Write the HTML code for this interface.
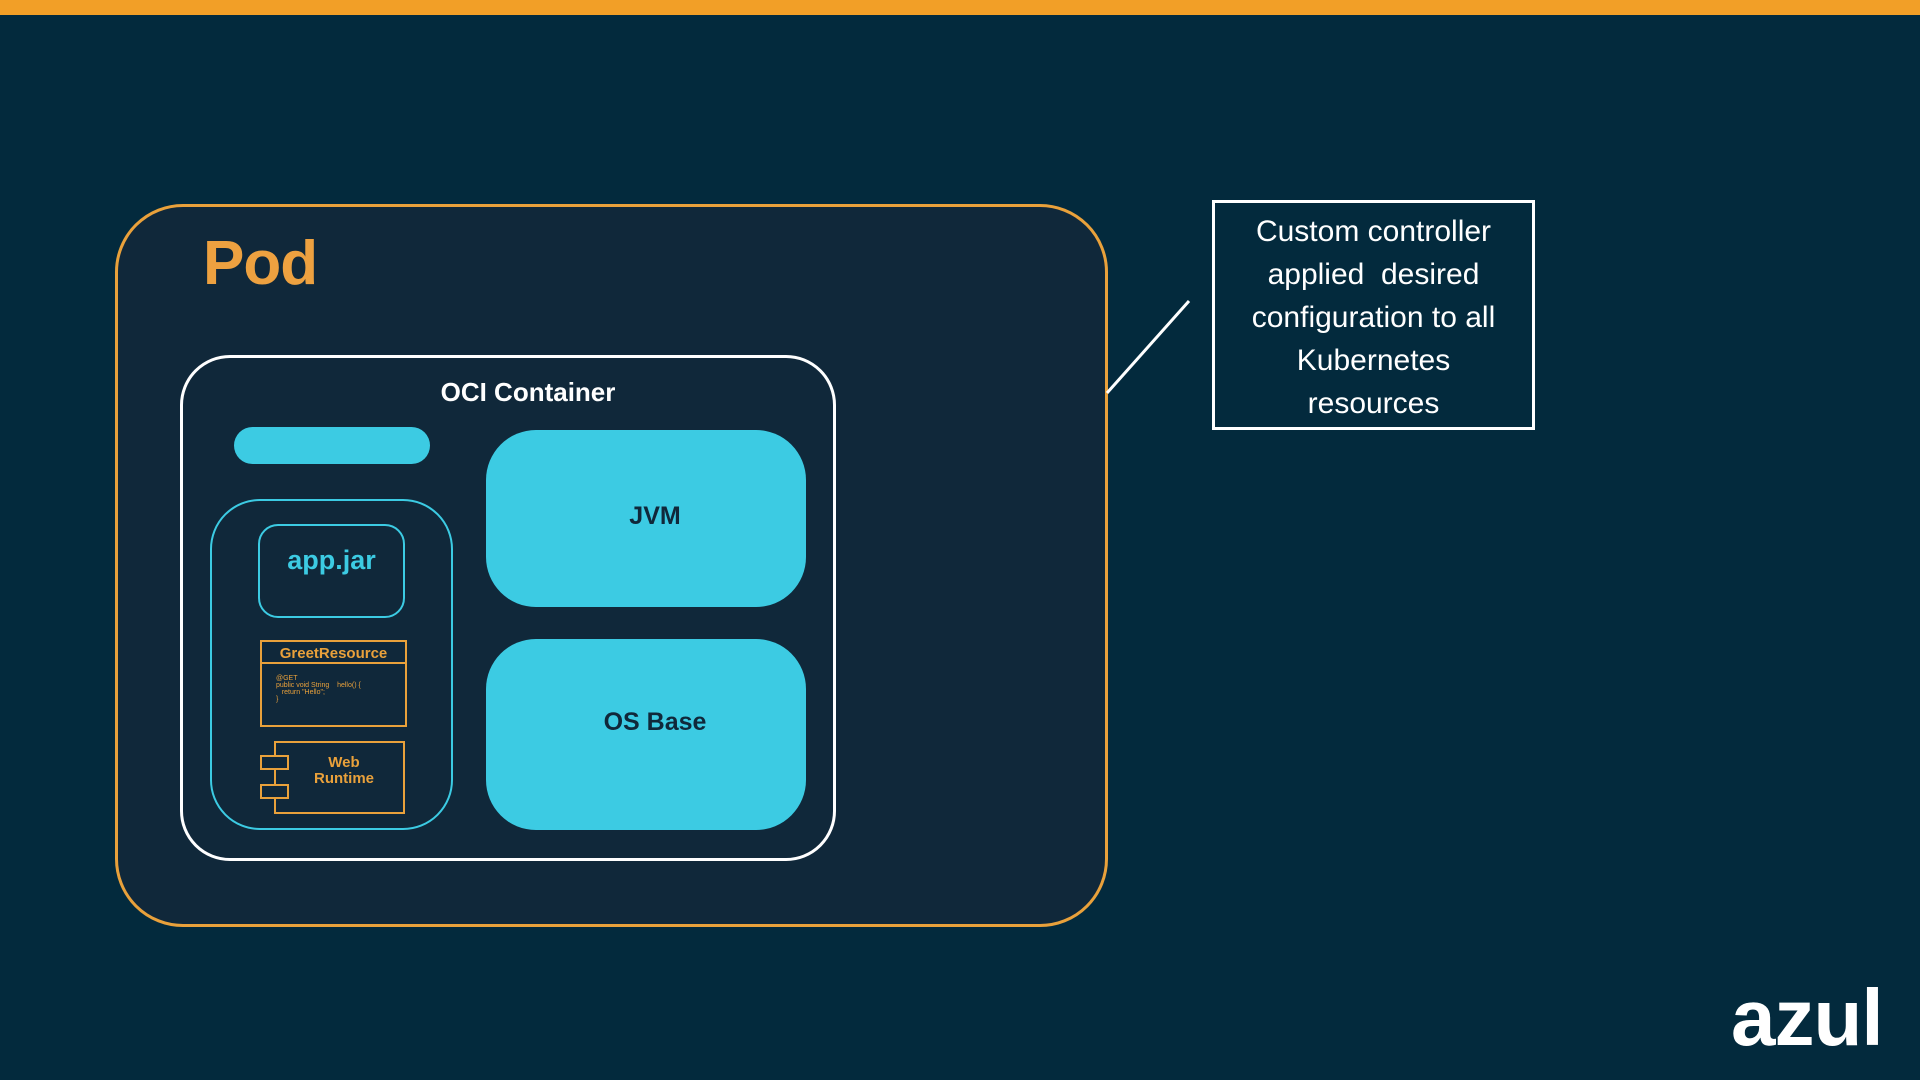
<!DOCTYPE html>
<html><head><meta charset="utf-8"><style>
*{margin:0;padding:0;box-sizing:border-box}
body{width:1920px;height:1080px;background:#032a3d;position:relative;overflow:hidden;font-family:"Liberation Sans",Arial,sans-serif}
.a{position:absolute}
.c{display:flex;align-items:center;justify-content:center;text-align:center}
</style></head><body>
<div class="a" style="left:0;top:0;width:1920px;height:15px;background:#f29f27"></div>
<div class="a" style="left:115px;top:204px;width:993px;height:723px;border:3px solid #e9a13b;border-radius:68px;background:#10283a"></div>
<div class="a" style="left:203px;top:228px;font-size:62px;font-weight:bold;color:#eda140;letter-spacing:-1px">Pod</div>
<div class="a" style="left:180px;top:355px;width:656px;height:506px;border:3px solid #fff;border-radius:50px"></div>
<div class="a c" style="left:216px;top:377px;width:624px;font-size:26px;font-weight:bold;color:#fff">OCI Container</div>
<div class="a" style="left:234px;top:427px;width:196px;height:37px;border-radius:19px;background:#3ccbe3"></div>
<div class="a" style="left:210px;top:499px;width:243px;height:331px;border:2px solid #3ccbe3;border-radius:50px"></div>
<div class="a c" style="left:258px;top:524px;width:147px;height:94px;border:2px solid #3ccbe3;border-radius:20px;align-items:flex-start;padding-top:19px;font-size:27px;font-weight:bold;color:#3ccbe3">app.jar</div>
<div class="a" style="left:260px;top:640px;width:147px;height:87px;border:2px solid #e9a13b"></div>
<div class="a" style="left:260px;top:662px;width:147px;height:2px;background:#e9a13b"></div>
<div class="a c" style="left:260px;top:645px;width:147px;font-size:15px;font-weight:bold;color:#e9a13b">GreetResource</div>
<div class="a" style="left:276px;top:675px;font-size:7px;line-height:7px;color:#e9a13b">@GET<br>public void String &nbsp;&nbsp; hello() {<br>&nbsp;&nbsp;&nbsp;return "Hello";<br>}</div>
<div class="a" style="left:274px;top:741px;width:131px;height:73px;border:2px solid #e9a13b"></div>
<div class="a" style="left:260px;top:755px;width:29px;height:15px;border:2px solid #e9a13b;background:#10283a"></div>
<div class="a" style="left:260px;top:784px;width:29px;height:15px;border:2px solid #e9a13b;background:#10283a"></div>
<div class="a c" style="left:289px;top:755px;width:110px;font-size:15px;line-height:16px;font-weight:bold;color:#e9a13b">Web<br>Runtime</div>
<div class="a c" style="left:486px;top:430px;width:320px;height:177px;border-radius:50px;background:#3ccbe3;font-size:25px;font-weight:bold;color:#10283a;padding-bottom:4px;padding-left:18px">JVM</div>
<div class="a c" style="left:486px;top:639px;width:320px;height:191px;border-radius:50px;background:#3ccbe3;font-size:25px;font-weight:bold;color:#10283a;padding-bottom:24px;padding-left:18px">OS Base</div>
<svg class="a" style="left:0;top:0" width="1920" height="1080"><line x1="1107" y1="393" x2="1189" y2="301" stroke="#fff" stroke-width="3"/></svg>
<div class="a c" style="left:1212px;top:200px;width:323px;height:230px;border:3px solid #fff;background:#032a3d;flex-direction:column;font-size:30px;line-height:43px;color:#fff;padding-top:4px">Custom controller<br>applied&nbsp; desired<br>configuration to all<br>Kubernetes<br>resources</div>
<div class="a" style="left:1731px;top:978px;font-size:80px;font-weight:bold;color:#fff;letter-spacing:-1px;line-height:80px">azul</div>
</body></html>
